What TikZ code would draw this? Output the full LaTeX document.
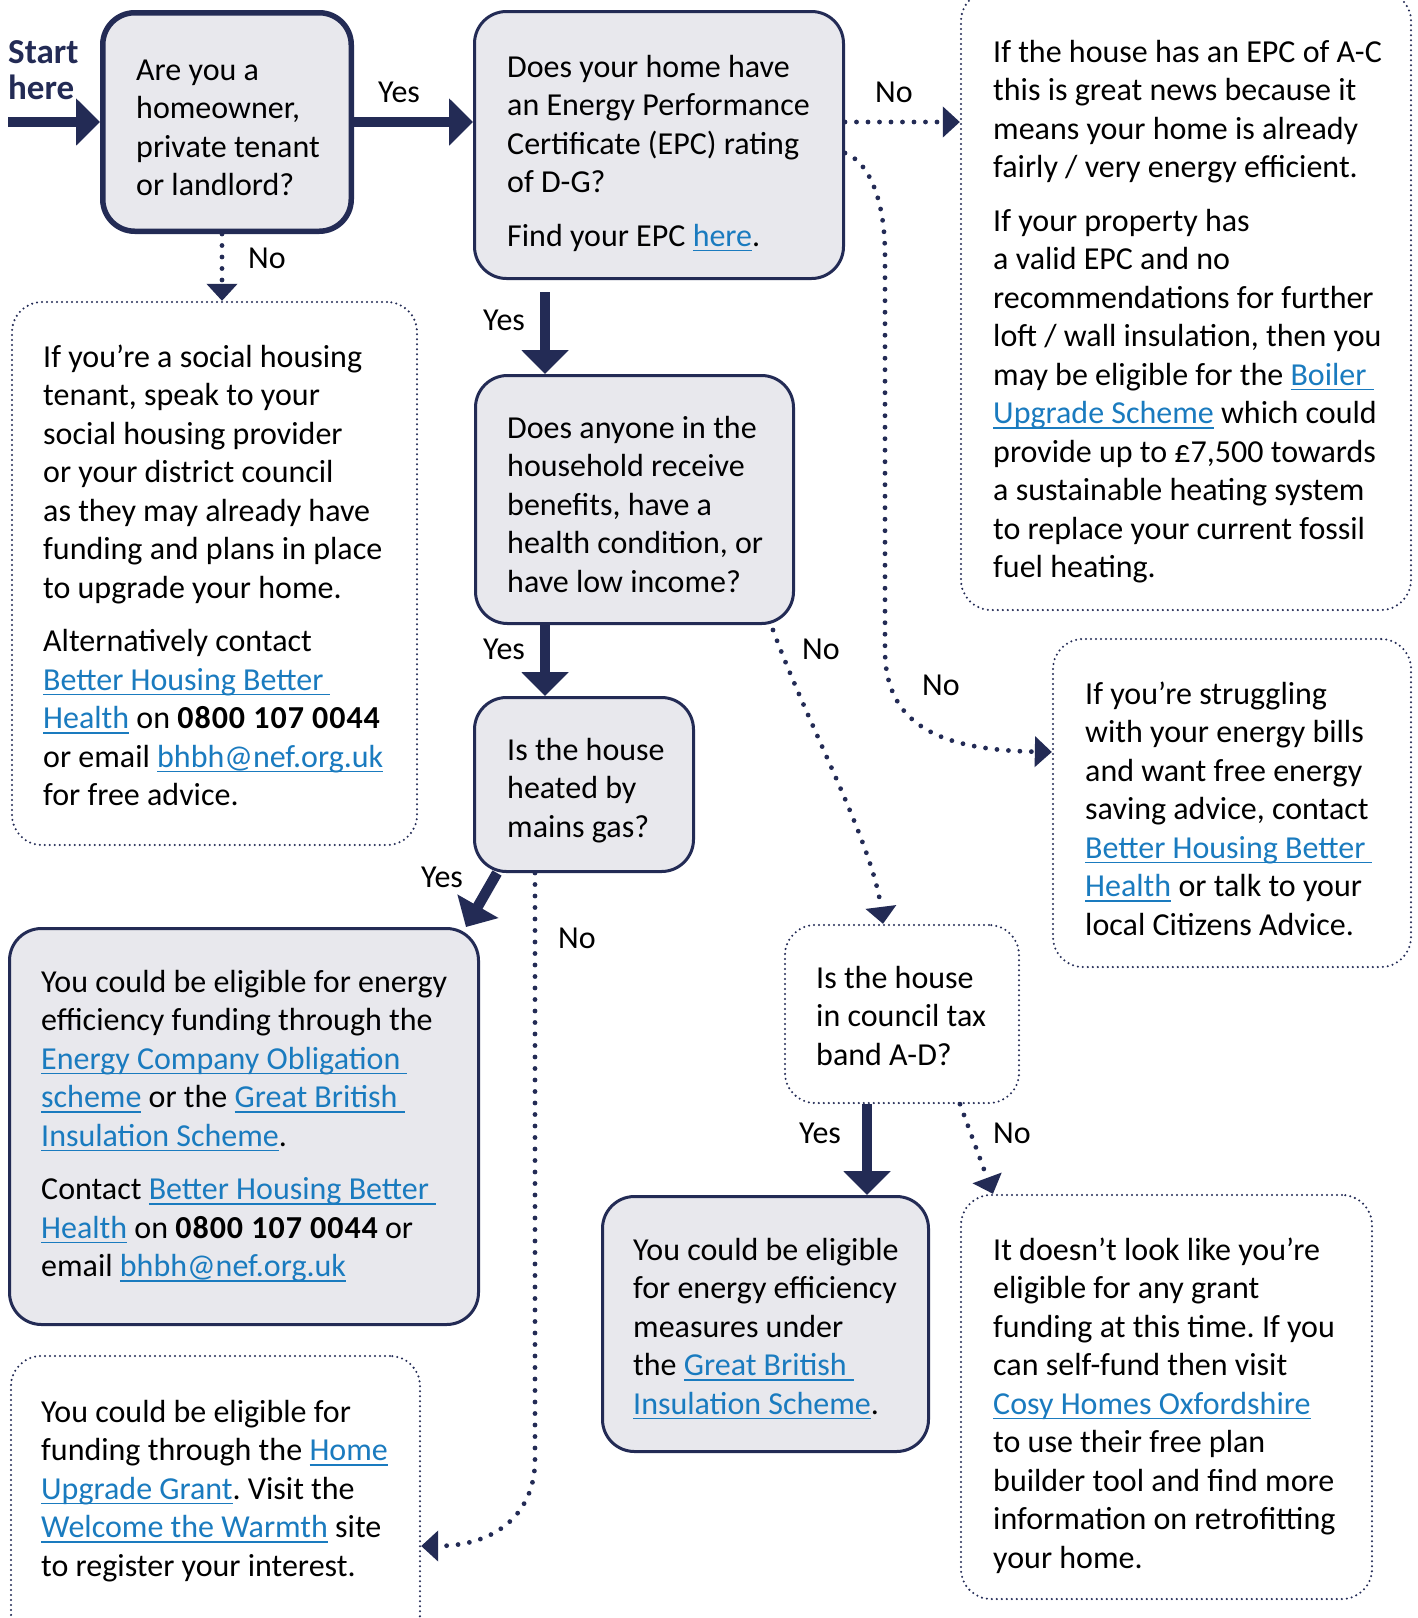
\documentclass[tikz,border=0pt]{standalone}
\usepackage{fontspec}
\setmainfont{Carlito}
\usetikzlibrary{arrows.meta}
\definecolor{navy}{HTML}{232B55}
\definecolor{boxfill}{HTML}{E8E8ED}
\definecolor{linkc}{HTML}{1A7BBF}
\newsavebox\lkbox
\newcommand\lk[1]{\sbox\lkbox{\color{linkc}#1}{\color{linkc}\rlap{\rule[-5pt]{\wd\lkbox}{1.5pt}}}\usebox\lkbox}
\newcommand\lks[1]{\sbox\lkbox{\color{linkc}#1}{\color{linkc}\rlap{\rule[-5pt]{\dimexpr\wd\lkbox+7pt\relax}{1.5pt}}}\usebox\lkbox}
\newcommand\fs{\fontsize{32}{38.5}\selectfont\frenchspacing}
\newcommand\phone{{\addfontfeatures{LetterSpace=3}\bfseries 0800 107 0044}}
\tikzset{
  solidbox/.style={draw=navy, fill=boxfill, line width=3pt, rounded corners=32pt, inner sep=0pt},
  dotbox/.style={draw=navy, line width=2.3pt, dash pattern=on 0pt off 5pt, line cap=round, rounded corners=30pt, inner sep=0pt},
  solidarrow/.style={draw=navy, line width=10.5pt, -{Triangle[width=46pt,length=24pt]}},
  dotarrow/.style={draw=navy, line width=4.8pt, line cap=round, dash pattern=on 0pt off 11.5pt, -{Triangle[width=30pt,length=17pt]}},
  txt/.style={inner sep=0pt, anchor=base west, font=\fs, text=black},
  lab/.style={inner sep=0pt, anchor=base west, font=\fs, text=black},
}
\begin{document}
\begin{tikzpicture}[x=1pt,y=-1pt]
\useasboundingbox (0,0) rectangle (1418,1618);
\fill[white] (0,0) rectangle (1418,1618);
\clip (0,0) rectangle (1418,1618);

% boxes
\node[solidbox, line width=5.5pt, minimum width=248.5pt, minimum height=218.5pt] (b1) at (227,122) {};
\node[solidbox, minimum width=369pt, minimum height=267pt] (b2) at (659,145) {};
\node[solidbox, minimum width=318pt, minimum height=248pt] (b3) at (634.5,499.5) {};
\node[solidbox, minimum width=219pt, minimum height=174pt] (b4) at (584,784.5) {};
\node[solidbox, minimum width=469pt, minimum height=396pt] (b5) at (244,1126.5) {};
\node[solidbox, minimum width=326pt, minimum height=255pt] (b7) at (765.5,1324) {};
\node[dotbox, minimum width=450pt, minimum height=619pt] (rb1) at (1186,300.5) {};
\node[dotbox, minimum width=405pt, minimum height=543pt] (sb) at (214.5,573.5) {};
\node[dotbox, minimum width=358pt, minimum height=328pt] (st) at (1232,803) {};
\node[dotbox, minimum width=234pt, minimum height=178pt] (ct) at (902,1014) {};
\node[dotbox, minimum width=411pt, minimum height=404pt] (b8) at (1166.5,1397) {};
\node[dotbox, minimum width=409pt, minimum height=288pt] (b6) at (215.5,1500) {};

% texts
\node[txt, text=navy, font=\fontsize{35}{36}\selectfont] (tstart) at (8,63) {\parbox[t]{90pt}{\bfseries Start\\here}};
\node[txt] (t1) at (136,80) {\parbox[t]{240pt}{Are you a\\homeowner,\\private tenant\\or landlord?}};
\node[txt] (t2) at (507,77) {\parbox[t]{340pt}{Does your home have\\an Energy Performance\\Certificate (EPC) rating\\of D-G?\\[15pt]Find your EPC \lk{here}.}};
\node[txt] (trb1) at (993,62) {\parbox[t]{420pt}{If the house has an EPC of A-C\\this is great news because it\\means your home is already\\fairly / very energy efficient.\\[15pt]If your property has\\a valid EPC and no\\recommendations for further\\loft / wall insulation, then you\\may be eligible for the \lks{Boiler}\\\lk{Upgrade Scheme} which could\\provide up to £7,500 towards\\a sustainable heating system\\to replace your current fossil\\fuel heating.}};
\node[txt] (tsb) at (43,367) {\parbox[t]{370pt}{If you’re a social housing\\tenant, speak to your\\social housing provider\\or your district council\\as they may already have\\funding and plans in place\\to upgrade your home.\\[15pt]Alternatively contact\\\lks{Better Housing Better}\\\lk{Health} on \phone\\or email \lk{bhbh@nef.org.uk}\\for free advice.}};
\node[txt] (t3) at (507,438) {\parbox[t]{290pt}{Does anyone in the\\household receive\\benefits, have a\\health condition, or\\have low income?}};
\node[txt] (t4) at (507,760) {\parbox[t]{190pt}{Is the house\\heated by\\mains gas?}};
\node[txt] (tst) at (1085,704) {\parbox[t]{320pt}{If you’re struggling\\with your energy bills\\and want free energy\\saving advice, contact\\\lks{Better Housing Better}\\\lk{Health} or talk to your\\local Citizens Advice.}};
\node[txt] (tct) at (816,988) {\parbox[t]{200pt}{Is the house\\in council tax\\band A-D?}};
\node[txt] (t5) at (41,992) {\parbox[t]{440pt}{You could be eligible for energy\\efficiency funding through the\\\lks{Energy Company Obligation}\\\lk{scheme} or the \lks{Great British}\\\lk{Insulation Scheme}.\\[15pt]Contact \lks{Better Housing Better}\\\lk{Health} on \phone{} or\\email \lk{bhbh@nef.org.uk}}};
\node[txt] (t7) at (633,1260) {\parbox[t]{290pt}{You could be eligible\\for energy efficiency\\measures under\\the \lks{Great British}\\\lk{Insulation Scheme}.}};
\node[txt] (t8) at (993,1260) {\parbox[t]{380pt}{It doesn’t look like you’re\\eligible for any grant\\funding at this time. If you\\can self-fund then visit\\\lk{Cosy Homes Oxfordshire}\\to use their free plan\\builder tool and find more\\information on retrofitting\\your home.}};
\node[txt] (t6) at (41,1422) {\parbox[t]{370pt}{You could be eligible for\\funding through the \lk{Home}\\\lk{Upgrade Grant}. Visit the\\\lk{Welcome the Warmth} site\\to register your interest.}};

% labels
\node[lab] (l1) at (378,102) {Yes};
\node[lab] (l2) at (875,102) {No};
\node[lab] (l3) at (248,268) {No};
\node[lab] (l4) at (483,330) {Yes};
\node[lab] (l5) at (483,659) {Yes};
\node[lab] (l6) at (802,659) {No};
\node[lab] (l7) at (922,695) {No};
\node[lab] (l8) at (421,887) {Yes};
\node[lab] (l9) at (558,948) {No};
\node[lab] (l10) at (799,1143) {Yes};
\node[lab] (l11) at (993,1143) {No};

% connectors
\coordinate (start) at (8,122);
\draw[solidarrow] (start) -- (b1.west);
\draw[solidarrow] (b1.east) -- (b1.east -| b2.west);
\draw[dotarrow] ([xshift=-5pt]b1.south) -- ([xshift=-5pt]b1.south |- sb.north);
\draw[dotarrow] (b1.east -| b2.east) -- (b1.east -| rb1.west);
\draw[dotarrow] ([yshift=-8pt]b2.east) .. controls +(24,9) and +(0,-55) .. (885,255) -- (885,650) .. controls +(0,75) and +(-112,-2) .. ([yshift=51pt]st.west);
\draw[solidarrow, shorten <=12pt] ([xshift=-89.5pt]b3.north |- b2.south) -- ([xshift=-89.5pt]b3.north);
\draw[solidarrow] ([xshift=-39pt]b4.north |- b3.south) -- ([xshift=-39pt]b4.north);
\draw[dotarrow] ([xshift=-22pt,yshift=-5pt]b3.south east) .. controls +(35,95) and +(-10,-80) .. ([xshift=-19pt]ct.north);
\draw[solidarrow] ([xshift=-87pt]b4.south) -- ([xshift=-14pt]b5.north east);
\draw[dotarrow] ([xshift=-49pt]b4.south) -- (535,1460) .. controls (535,1510) and (500,1546) .. ([yshift=-46pt]b6.east);
\draw[solidarrow] ([xshift=-35pt]ct.south) -- ([xshift=-35pt]ct.south |- b7.north);
\draw[dotarrow] ([xshift=58pt]ct.south) -- ([xshift=-173.5pt]b8.north);
\end{tikzpicture}
\end{document}
